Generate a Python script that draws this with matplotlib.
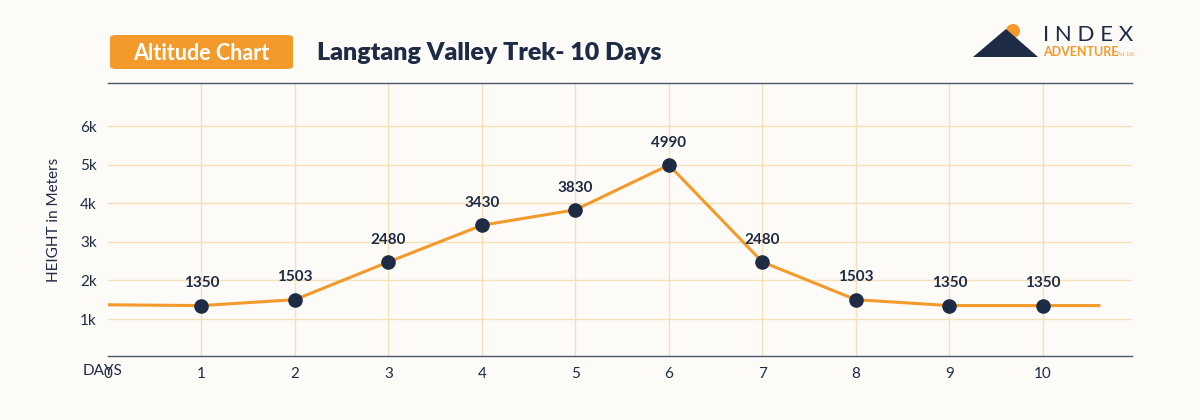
import matplotlib
matplotlib.use("Agg")
import matplotlib.pyplot as plt
from matplotlib.patches import FancyBboxPatch, Polygon, Ellipse

days = [1, 2, 3, 4, 5, 6, 7, 8, 9, 10]
heights = [1350, 1503, 2480, 3430, 3830, 4990, 2480, 1503, 1350, 1350]
line_x = [0] + days + [10.6]
line_y = [1370] + heights + [1350]
ytick_vals = [1000, 2000, 3000, 4000, 5000, 6000]
ytick_labels = ["1k", "2k", "3k", "4k", "5k", "6k"]

plt.rcParams['font.family'] = ['Lato', 'DejaVu Sans']
bg = "#fdfbf8"
navy = "#1d2b45"
orange = "#f39a2b"

fig = plt.figure(figsize=(12, 4.2), dpi=100, facecolor=bg)
ax = fig.add_axes([0.09, 0.152, 0.853, 0.650], facecolor=bg)
ax.set_xlim(0, 10.95)
ax.set_ylim(40, 7110)
for d in range(1, 11):
    ax.axvline(d, color="#f7dfb8", lw=1, zorder=0)
for v in ytick_vals:
    ax.axhline(v, color="#f7dfb8", lw=1, zorder=0)
ax.plot(line_x, line_y, color=orange, lw=2.2, zorder=2)
ax.scatter(days, heights, s=90, color=navy, zorder=3)
for d, h in zip(days, heights):
    ax.annotate(str(h), (d, h), xytext=(0, 11), textcoords="offset points",
                ha="center", va="bottom", fontsize=11, fontweight="bold", color=navy)
ax.set_xticks([0] + days)
ax.set_xticklabels(["0"] + [str(d) for d in days], fontsize=11, color=navy)
ax.tick_params(length=0, pad=8)
fig.text(83/1200, 1-371/420, "DAYS", ha="left", va="center", fontsize=11, color=navy)
ax.set_yticks(ytick_vals)
ax.set_yticklabels(ytick_labels, fontsize=11, color=navy)
ax.set_ylabel("HEIGHT in Meters", fontsize=11, color=navy, labelpad=14)
for s in ["left", "right"]:
    ax.spines[s].set_visible(False)
for s in ["top", "bottom"]:
    ax.spines[s].set_color("#4a5568")
    ax.spines[s].set_linewidth(1)

# title badge
fig.patches.append(FancyBboxPatch((110/1200, 1-69/420), 183/1200, 34/420,
                                  boxstyle="round,pad=0,rounding_size=0.006",
                                  transform=fig.transFigure, facecolor=orange, edgecolor="none"))
fig.text(201/1200, 1-53/420, "Altitude Chart", ha="center", va="center",
         fontsize=15.5, color="white", fontweight="bold")
fig.text(317/1200, 1-53/420, "Langtang Valley Trek- 10 Days", ha="left", va="center",
         fontsize=18, color=navy, fontweight="heavy")

# logo
fig.patches.append(Ellipse((1013/1200, 1-31/420), 14/1200, 14/420, transform=fig.transFigure,
                           facecolor=orange, edgecolor="none", zorder=1))
fig.patches.append(Polygon([(973/1200, 1-57/420), (1006/1200, 1-29/420), (1038/1200, 1-57/420)],
                           closed=True, transform=fig.transFigure, facecolor=navy, edgecolor="none",
                           zorder=2))
fig.text(1043/1200, 1-35/420, "I N D E X", ha="left", va="center", fontsize=16, color=navy)
fig.text(1043/1200, 1-52/420, "ADVENTURE", ha="left", va="center", fontsize=9,
         color=orange, fontweight="bold")
fig.text(1117/1200, 1-54/420, "Pvt. Ltd.", ha="left", va="center", fontsize=3.5, color=orange)

fig.savefig("out.png", dpi=100, facecolor=bg)
